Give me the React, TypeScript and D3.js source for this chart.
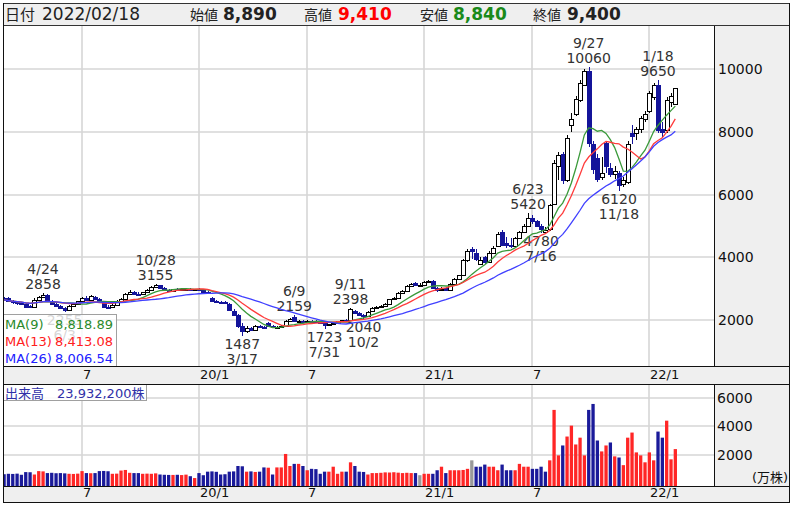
import React from "react";
import * as d3 from "d3";

// Weekly candles, Feb 2019 – Feb 2022 (the closed Golden Week of 2019 has no bar)
const opens = [
  2690, 2700, 2600, 2560, 2530, 2500, 2440, 2430, 2650, 2740,
  2800, 2620, 2520, 2460, 2380, 2330, 2440, 2520, 2600, 2700,
  2640, 2720, 2680, 2560, 2430, 2400, 2480, 2620, 2660, 2830,
  2900, 2840, 2820, 2880, 2960, 3060, 3100, 3010, 2960, 2940,
  2980, 2960, 2990, 3000, 2980, 2990, 2970, 2900, 2700, 2620,
  2580, 2560, 2520, 2300, 2160, 1800, 1650, 1760, 1680, 1820,
  1780, 1920, 1810, 1770, 1790, 1800, 1960, 2100, 1960, 1980,
  1960, 1980, 1970, 1960, 1900, 1850, 1880, 1920, 1960, 2000,
  1990, 2300, 2220, 2170, 2120, 2280, 2390, 2420, 2450, 2520,
  2660, 2710, 2860, 2940, 3080, 3170, 3110, 3120, 3200, 3240,
  3010, 2950, 3030, 2960, 3150, 3300, 3420, 3900, 4250, 4150,
  3800, 4000, 3850, 4150, 4350, 4800, 4450, 4380, 4350, 4600,
  4800, 5000, 5250, 5150, 5000, 4800, 4900, 5700, 6900, 7300,
  6450, 8200, 8550, 9000, 9500, 9950, 7600, 7150, 6550, 7650,
  6850, 6650, 6700, 6350, 6400, 7950, 7950, 8100, 8400, 8650,
  9100, 9500, 8100, 8050, 8950, 8890,
];
const highs = [
  2730, 2720, 2640, 2600, 2580, 2540, 2480, 2700, 2760, 2858,
  2820, 2640, 2550, 2480, 2420, 2470, 2540, 2620, 2740, 2760,
  2800, 2760, 2700, 2580, 2470, 2500, 2640, 2700, 2860, 2950,
  2930, 2880, 2900, 2980, 3080, 3155, 3110, 3040, 3000, 3000,
  3020, 3000, 3030, 3020, 3000, 3010, 2990, 2920, 2720, 2640,
  2620, 2600, 2540, 2350, 2180, 1900, 1800, 1780, 1850, 1840,
  1820, 1950, 1830, 1810, 1830, 1990, 2060, 2159, 2000, 2010,
  2000, 2010, 2000, 1970, 1920, 1880, 1940, 1980, 2010, 2030,
  2398, 2320, 2250, 2200, 2290, 2420, 2440, 2470, 2540, 2680,
  2730, 2880, 2960, 3100, 3170, 3200, 3180, 3240, 3280, 3260,
  3050, 3040, 3060, 3170, 3330, 3450, 3950, 4250, 4320, 4270,
  4000, 4050, 4200, 4350, 4800, 4870, 4650, 4600, 4650, 4850,
  5050, 5420, 5350, 5200, 5050, 4950, 5700, 7100, 7350, 7350,
  7900, 8600, 9150, 9650, 10000, 10060, 7700, 7300, 7200, 7700,
  7000, 6900, 6750, 6550, 7700, 8200, 8150, 8500, 8650, 9300,
  9550, 9650, 8300, 9100, 9250, 9410,
];
const lows = [
  2600, 2580, 2520, 2480, 2470, 2400, 2370, 2420, 2620, 2720,
  2580, 2490, 2430, 2350, 2255, 2310, 2420, 2490, 2580, 2600,
  2620, 2640, 2540, 2400, 2360, 2380, 2460, 2600, 2650, 2800,
  2800, 2780, 2800, 2860, 2940, 3020, 2980, 2930, 2900, 2900,
  2930, 2920, 2950, 2960, 2950, 2940, 2880, 2840, 2560, 2530,
  2520, 2500, 2280, 2120, 1760, 1487, 1600, 1640, 1660, 1740,
  1720, 1780, 1740, 1740, 1760, 1790, 1930, 1930, 1920, 1940,
  1930, 1950, 1940, 1880, 1723, 1800, 1860, 1900, 1940, 1960,
  1980, 2200, 2150, 2040, 2100, 2260, 2360, 2380, 2430, 2500,
  2640, 2700, 2840, 2920, 3060, 3090, 3080, 3100, 3170, 2980,
  2900, 2930, 2920, 2950, 3130, 3280, 3400, 3850, 3950, 3880,
  3780, 3800, 3830, 4100, 4320, 4350, 4300, 4300, 4330, 4580,
  4790, 4950, 5050, 4950, 4780, 4790, 4850, 5650, 6450, 6350,
  6400, 8000, 8500, 8950, 9450, 7500, 6650, 6400, 6450, 6700,
  6550, 6500, 6120, 6250, 6350, 7600, 7750, 7950, 8300, 8600,
  9000, 7950, 7800, 7950, 8800, 8840,
];
const closes = [
  2640, 2600, 2560, 2540, 2500, 2430, 2420, 2650, 2740, 2800,
  2620, 2520, 2460, 2380, 2330, 2440, 2520, 2600, 2700, 2640,
  2760, 2680, 2560, 2430, 2400, 2480, 2620, 2660, 2830, 2900,
  2840, 2820, 2880, 2960, 3060, 3100, 3010, 2960, 2940, 2980,
  2960, 2990, 3000, 2980, 2990, 2970, 2900, 2870, 2620, 2580,
  2560, 2540, 2310, 2160, 1800, 1650, 1760, 1680, 1820, 1780,
  1760, 1810, 1770, 1790, 1800, 1960, 2030, 1960, 1980, 1960,
  1980, 1970, 1960, 1900, 1830, 1860, 1920, 1960, 2000, 1990,
  2350, 2220, 2170, 2120, 2270, 2390, 2420, 2450, 2520, 2660,
  2710, 2860, 2940, 3080, 3150, 3120, 3120, 3200, 3250, 3010,
  2950, 3000, 2960, 3150, 3300, 3420, 3900, 4200, 4200, 3950,
  3900, 3850, 4150, 4300, 4750, 4400, 4380, 4350, 4600, 4800,
  5000, 5250, 5150, 5000, 4900, 4870, 5650, 7000, 7250, 6450,
  7800, 8400, 9050, 9550, 9950, 7650, 6800, 6500, 6700, 6900,
  6650, 6750, 6300, 6450, 7600, 7850, 8100, 8450, 8550, 9250,
  9500, 8050, 8000, 9000, 9150, 9400,
];
// volume in 万株 (10,000 shares)
const volumes = [
  620, 650, 640, 660, 580, 770, 760, 600, 840, 820,
  700, 720, 690, 700, 680, 650, 640, 660, 840, 700,
  690, 700, 840, 850, 830, 650, 660, 880, 920, 720,
  700, 700, 650, 660, 650, 680, 600, 580, 570, 570,
  580, 560, 590, 480, 350, 700, 550, 800, 820, 790,
  600, 620, 800, 820, 1200, 1180, 800, 820, 780, 800,
  1100, 1080, 600, 1100, 1100, 2050, 1200, 1350, 1350, 1200,
  900, 1000, 980, 650, 800, 800, 1150, 650, 800, 800,
  1460, 1200, 800, 780, 600, 700, 700, 720, 750, 740,
  760, 730, 700, 720, 700, 700, 550, 650, 650, 650,
  900, 1150, 700, 900, 900, 900, 920, 1000, 1600, 1150,
  1150, 1300, 1150, 1150, 900, 1300, 900, 900, 900, 1350,
  1150, 1150, 1000, 1000, 1150, 800, 1600, 5160, 1950, 2650,
  3280, 4050, 2720, 3200, 1950, 5160, 5580, 3000, 2230, 2650,
  2860, 1880, 1800, 1260, 3200, 3560, 2160, 1950, 1460, 2160,
  1600, 3630, 3200, 4400, 1670, 2393.22,
];
const PRIOR_CLOSE = 2690;

const CLOSED_WEEKS = ["2019-04-29"];
const priceTicks = [2000, 4000, 6000, 8000, 10000];
const volumeTicks = [2000, 4000, 6000];
const gridWeeks = ["2019-07-01", "2020-01-06", "2020-06-29", "2021-01-04", "2021-06-28", "2022-01-03"];
const gridLabels = ["7", "20/1", "7", "21/1", "7", "22/1"];

const markWeeks = [
  "2019-04-22", "2019-06-03", "2019-10-28", "2020-03-16", "2020-06-08", "2020-07-27",
  "2020-09-07", "2020-09-28", "2021-06-21", "2021-07-12", "2021-09-27", "2021-11-15", "2022-01-17",
];
const markKinds = ["high", "low", "high", "low", "high", "low", "high", "low", "high", "low", "high", "low", "high"];
const markDates = ["4/24", "6/3", "10/28", "3/17", "6/9", "7/31", "9/11", "10/2", "6/23", "7/16", "9/27", "11/18", "1/18"];

const maPeriods = [9, 13, 26];
const maColors = ["#3a9a3a", "#ff3c3c", "#4040ff"];
const maTextColors = ["#2a8a2a", "#ff2020", "#2020ff"];
const maLabels = ["8,818.89", "8,413.08", "8,006.54"];

const FONT = "'DejaVu Sans', Verdana, 'Noto Sans CJK JP', sans-serif";

function weekDates(n: number): string[] {
  const out: string[] = [];
  let t = Date.UTC(2019, 1, 18);
  while (out.length < n) {
    const s = new Date(t).toISOString().slice(0, 10);
    if (!CLOSED_WEEKS.includes(s)) out.push(s);
    t += 7 * 86400000;
  }
  return out;
}

function movingAverage(vals: number[], n: number): number[] {
  return vals.map((_, i) => d3.mean(vals.slice(Math.max(0, i - n + 1), i + 1)) as number);
}

export default function App() {
  const dates = weekDates(closes.length);
  const L = 3, R = 790, PR = 715;
  const priceTop = 26, priceBottom = 367;
  const volTop = 384, volBottom = 486, stripBottom = 503;

  const x = d3
    .scaleLinear()
    .domain([dates.indexOf(gridWeeks[0]), dates.indexOf(gridWeeks[5])])
    .range([82, 649.3]);
  const y = d3.scaleLinear().domain([2000, 10000]).range([320, 69]);
  const yv = d3.scaleLinear().domain([0, 6000]).range([483, 398]);

  const line = d3
    .line<number>()
    .x((_, i) => x(i))
    .y((d) => y(d));

  const fmt = d3.format(",");
  const last = closes.length - 1;
  const gridX = gridWeeks.map((d) => Math.round(x(dates.indexOf(d))));

  const headerItems = [
    { label: "始値", lx: 190, vx: 223, value: opens[last], color: "#222" },
    { label: "高値", lx: 304, vx: 338, value: highs[last], color: "#ff0000" },
    { label: "安値", lx: 420, vx: 453, value: lows[last], color: "#1a8a1a" },
    { label: "終値", lx: 533, vx: 567, value: closes[last], color: "#222" },
  ];

  return (
    <div>
      <style>{`body{margin:0;}`}</style>
      <svg width={793} height={506} style={{ display: "block" }} fontFamily={FONT}>
        <defs>
          <clipPath id="pclip">
            <rect x={L} y={priceTop} width={PR - L} height={priceBottom - priceTop} />
          </clipPath>
          <clipPath id="vclip">
            <rect x={L} y={volTop} width={PR - L} height={volBottom - volTop} />
          </clipPath>
        </defs>
        <rect width={793} height={506} fill="#fff" />

        {/* header */}
        <rect x={3.5} y={3.5} width={786} height={22} fill="#efefef" stroke="#333" />
        <text x={5} y={20} fontSize={15} fill="#222">日付</text>
        <text x={42} y={20} fontSize={17} fill="#222">2022/02/18</text>
        {headerItems.map((h) => (
          <g key={h.label}>
            <text x={h.lx} y={20} fontSize={14} fill="#222">{h.label}</text>
            <text x={h.vx} y={20} fontSize={17} fontWeight="bold" fill={h.color}>{fmt(h.value)}</text>
          </g>
        ))}

        {/* backgrounds */}
        <rect x={PR} y={priceTop} width={R - PR} height={volBottom - priceTop} fill="#efefef" />
        <rect x={L} y={priceBottom} width={R - L} height={volTop - priceBottom} fill="#efefef" />
        <rect x={L} y={volBottom} width={R - L} height={stripBottom - volBottom} fill="#efefef" />

        {/* grid */}
        <g stroke="#d6d6d6" strokeWidth={1.6}>
          {gridX.map((gx, i) => (
            <g key={i}>
              <line x1={gx} x2={gx} y1={priceTop} y2={priceBottom} />
              <line x1={gx} x2={gx} y1={volTop} y2={volBottom} />
            </g>
          ))}
          {priceTicks.map((t) => (
            <line key={t} x1={L} x2={PR} y1={Math.round(y(t))} y2={Math.round(y(t))} />
          ))}
          {volumeTicks.map((t) => (
            <line key={t} x1={L} x2={PR} y1={Math.round(yv(t))} y2={Math.round(yv(t))} />
          ))}
        </g>

        {/* axis labels */}
        {priceTicks.map((t) => (
          <text key={t} x={718} y={y(t) + 5} fontSize={14} fill="#111">{t}</text>
        ))}
        {volumeTicks.map((t) => (
          <text key={t} x={717} y={yv(t) + 5} fontSize={14} fill="#111">{t}</text>
        ))}
        <text x={752} y={482} fontSize={13} fill="#111">(万株)</text>
        {gridX.map((gx, i) => (
          <g key={i}>
            <text x={gx + 1} y={379} fontSize={13} fill="#111">{gridLabels[i]}</text>
            <text x={gx + 1} y={497} fontSize={13} fill="#111">{gridLabels[i]}</text>
          </g>
        ))}

        {/* price panel */}
        <g clipPath="url(#pclip)">
          {markWeeks.map((w, m) => {
            const i = dates.indexOf(w);
            const cx = x(i);
            if (markKinds[m] === "high") {
              const yy = y(highs[i]);
              return (
                <g key={w} fontSize={14} fill="#333" textAnchor="middle">
                  <text x={cx} y={yy - 19}>{markDates[m]}</text>
                  <text x={cx} y={yy - 4}>{highs[i]}</text>
                </g>
              );
            }
            const yy = y(lows[i]);
            return (
              <g key={w} fontSize={14} fill="#333" textAnchor="middle">
                <text x={cx} y={yy + 13}>{lows[i]}</text>
                <text x={cx} y={yy + 28}>{markDates[m]}</text>
              </g>
            );
          })}

          {closes.map((c, i) => {
            const o = opens[i];
            const up = c >= o;
            const col = up ? "#000" : "#14149a";
            const cx = Math.round(x(i));
            const top = Math.round(y(Math.max(o, c)));
            const bot = Math.round(y(Math.min(o, c)));
            return (
              <g key={i} shapeRendering="crispEdges">
                <line x1={cx + 0.5} x2={cx + 0.5} y1={y(highs[i])} y2={y(lows[i])} stroke={col} />
                <rect
                  x={cx - 1.5}
                  y={top + 0.5}
                  width={4}
                  height={Math.max(1, bot - top)}
                  fill={up ? "#fff" : col}
                  stroke={col}
                />
              </g>
            );
          })}

          {maPeriods.map((n, k) => (
            <path key={n} d={line(movingAverage(closes, n)) || ""} fill="none" stroke={maColors[k]} strokeWidth={1.3} />
          ))}
        </g>

        {/* MA legend */}
        <rect x={3.5} y={314.5} width={113} height={52} fill="#fff" fillOpacity={0.8} stroke="#a0a0a0" />
        {maPeriods.map((n, k) => (
          <g key={n} fontSize={13} fill={maTextColors[k]}>
            <text x={5} y={329 + k * 17}>{`MA(${n})`}</text>
            <text x={113} y={329 + k * 17} textAnchor="end">{maLabels[k]}</text>
          </g>
        ))}

        {/* volume */}
        <g clipPath="url(#vclip)">
          {volumes.map((v, i) => {
            const prev = i === 0 ? PRIOR_CLOSE : closes[i - 1];
            const col = closes[i] > prev ? "#ff2626" : closes[i] < prev ? "#1a1a9a" : "#999999";
            const cx = x(i);
            const top = yv(v);
            return <rect key={i} x={cx - 1.6} y={top} width={3.3} height={volBottom - top} fill={col} />;
          })}
        </g>
        <rect x={3.5} y={384.5} width={143} height={16} fill="#fff" fillOpacity={0.85} stroke="#a0a0a0" />
        <text x={5} y={397.5} fontSize={13} fill="#3030a8">
          {"出来高　" + fmt(Math.round(volumes[last] * 10000)) + "株"}
        </text>

        {/* frame lines */}
        <g stroke="#111" strokeWidth={1} shapeRendering="crispEdges">
          <line x1={3.5} x2={3.5} y1={3} y2={stripBottom} />
          <line x1={789.5} x2={789.5} y1={3} y2={stripBottom} />
          <line x1={714.5} x2={714.5} y1={priceTop} y2={priceBottom} />
          <line x1={714.5} x2={714.5} y1={volTop} y2={volBottom} />
          <line x1={L} x2={R} y1={366.5} y2={366.5} />
          <line x1={L} x2={R} y1={384.5} y2={384.5} />
          <line x1={L} x2={R} y1={486.5} y2={486.5} />
          <line x1={L} x2={R} y1={502.5} y2={502.5} />
        </g>
      </svg>
    </div>
  );
}
